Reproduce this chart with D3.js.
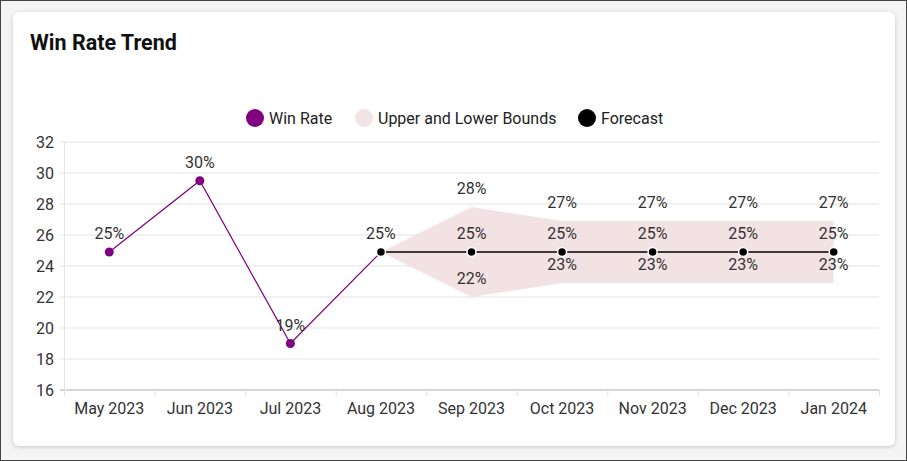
<!DOCTYPE html>
<html>
<head>
<meta charset="utf-8">
<script src="https://cdn.jsdelivr.net/npm/d3@7"></script>
<style>
    html, body { margin: 0; padding: 0; }
    body {
        width: 907px; height: 461px; box-sizing: border-box;
        background: #f4f4f4; border: 1px solid #444;
        font-family: Roboto, "Noto Sans", sans-serif;
        overflow: hidden;
    }
    .card {
        position: absolute; left: 13px; top: 12px; width: 882px; height: 434px;
        background: #fff; border-radius: 6px;
        box-shadow: 0 1px 4px rgba(0,0,0,0.18);
    }
    svg { position: absolute; left: 0; top: 0; }
</style>
</head>
<body>
<div class="card"></div>
<script>
//chart data
var months = ["May 2023", "Jun 2023", "Jul 2023", "Aug 2023", "Sep 2023", "Oct 2023", "Nov 2023", "Dec 2023", "Jan 2024"];
var winRate = [24.9, 29.5, 19.0, 24.9];                    //May..Aug
var forecastMonths = ["Aug 2023", "Sep 2023", "Oct 2023", "Nov 2023", "Dec 2023", "Jan 2024"];
var forecast = [24.9, 24.9, 24.9, 24.9, 24.9, 24.9];
var upperBound = [24.9, 27.8, 26.9, 26.9, 26.9, 26.9];
var lowerBound = [24.9, 22.0, 22.9, 22.9, 22.9, 22.9];
var yTicks = [16, 18, 20, 22, 24, 26, 28, 30, 32];

window.onload = function(){

    var w = 907, h = 461;

    var svg = d3.select("body")
        .append("svg")
        .attr("width", w)
        .attr("height", h);

    //title
    svg.append("text")
        .attr("x", 30)
        .attr("y", 50)
        .style("font-size", "21.5px")
        .style("font-weight", "bold")
        .style("fill", "#111")
        .text("Win Rate Trend");

    //scales
    var x = d3.scaleBand()
        .domain(months)
        .range([64, 879]);

    var y = d3.scaleLinear()
        .domain([16, 32])
        .range([390, 142]);

    function cx(m){ return x(m) + x.bandwidth() / 2; }

    //gridlines
    svg.selectAll(".grid")
        .data(yTicks)
        .enter()
        .append("line")
        .attr("class", "grid")
        .attr("x1", 60)
        .attr("x2", 879)
        .attr("y1", function(d){ return y(d); })
        .attr("y2", function(d){ return y(d); })
        .style("stroke", function(d){ return d === 16 ? "#d6d6d6" : "#e3e3e3"; })
        .style("stroke-width", function(d){ return d === 16 ? 2 : 1; });

    //y axis
    var yAxis = svg.append("g")
        .attr("transform", "translate(64,0)")
        .call(d3.axisLeft(y).tickValues(yTicks).tickSize(0).tickPadding(10));
    yAxis.select(".domain").style("stroke", "#e3e3e3");
    yAxis.selectAll("text")
        .style("font-family", "Roboto, sans-serif")
        .style("font-size", "16px")
        .style("fill", "#333");

    //x axis
    var xAxis = svg.append("g")
        .attr("transform", "translate(0,390)")
        .call(d3.axisBottom(x).tickSize(0).tickPadding(13));
    xAxis.select(".domain").remove();
    xAxis.selectAll("text")
        .style("font-family", "Roboto, sans-serif")
        .style("font-size", "16px")
        .style("fill", "#333");

    //band boundary ticks
    var bounds = months.map(function(m){ return x(m); }).concat([x.range()[1]]);
    svg.selectAll(".xtick")
        .data(bounds)
        .enter()
        .append("line")
        .attr("x1", function(d){ return d + 0.5; })
        .attr("x2", function(d){ return d + 0.5; })
        .attr("y1", 390)
        .attr("y2", 396)
        .style("stroke", "#e0e0e0");

    //upper and lower band
    var band = forecastMonths.map(function(m, i){
        return { m: m, hi: upperBound[i], lo: lowerBound[i], f: forecast[i] };
    });
    svg.append("path")
        .datum(band)
        .attr("d", d3.area()
            .x(function(d){ return cx(d.m); })
            .y0(function(d){ return y(d.lo); })
            .y1(function(d){ return y(d.hi); }))
        .style("fill", "#f3e2e4");

    //win rate line
    var wr = winRate.map(function(v, i){ return { m: months[i], v: v }; });
    svg.append("path")
        .datum(wr)
        .attr("d", d3.line()
            .x(function(d){ return cx(d.m); })
            .y(function(d){ return y(d.v); }))
        .style("fill", "none")
        .style("stroke", "#800080")
        .style("stroke-width", 1.2);

    svg.selectAll(".wrDot")
        .data(wr)
        .enter()
        .append("circle")
        .attr("cx", function(d){ return cx(d.m); })
        .attr("cy", function(d){ return y(d.v); })
        .attr("r", 4.5)
        .style("fill", "#800080");

    //forecast line
    svg.append("path")
        .datum(band)
        .attr("d", d3.line()
            .x(function(d){ return cx(d.m); })
            .y(function(d){ return y(d.f); }))
        .style("fill", "none")
        .style("stroke", "#000")
        .style("stroke-width", 1.5);

    svg.selectAll(".fDot")
        .data(band)
        .enter()
        .append("circle")
        .attr("cx", function(d){ return cx(d.m); })
        .attr("cy", function(d){ return y(d.f); })
        .attr("r", 4.5)
        .style("fill", "#000")
        .style("stroke", "#fff")
        .style("stroke-width", 1.5);

    //data labels
    function label(px, v){
        svg.append("text")
            .attr("x", px)
            .attr("y", y(v) - 13)
            .attr("text-anchor", "middle")
            .style("font-size", "16px")
            .style("fill", "#333")
            .text(Math.round(v) + "%");
    }
    wr.forEach(function(d){ label(cx(d.m), d.v); });
    band.slice(1).forEach(function(d){
        label(cx(d.m), d.hi);
        label(cx(d.m), d.f);
        label(cx(d.m), d.lo);
    });

    //legend
    var legend = [
        { name: "Win Rate", color: "#800080", x: 255 },
        { name: "Upper and Lower Bounds", color: "#f2e3e6", x: 364 },
        { name: "Forecast", color: "#000", x: 587 }
    ];
    var lg = svg.selectAll(".legend")
        .data(legend)
        .enter()
        .append("g")
        .attr("transform", function(d){ return "translate(" + d.x + ",118)"; });
    lg.append("circle")
        .attr("r", 9)
        .style("fill", function(d){ return d.color; });
    lg.append("text")
        .attr("x", 14)
        .attr("dy", "0.35em")
        .style("font-size", "16px")
        .style("fill", "#222")
        .text(function(d){ return d.name; });
};
</script>
</body>
</html>
